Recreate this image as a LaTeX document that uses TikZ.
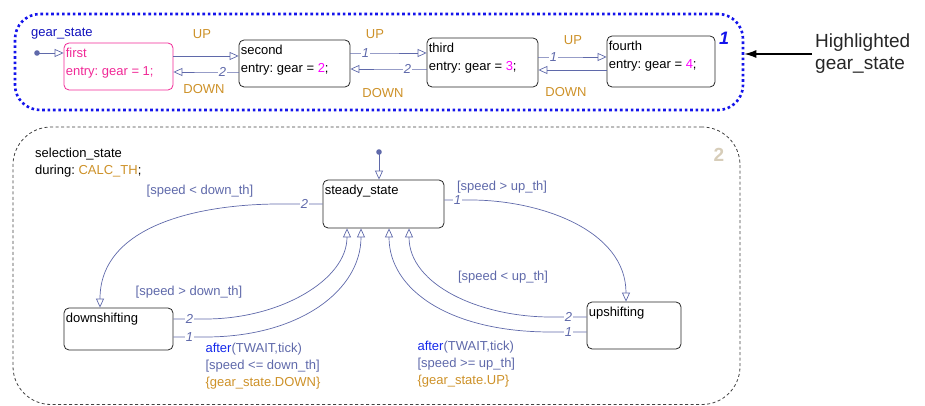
\documentclass[tikz,border=0pt]{standalone}
\usepackage{fontspec}
\setmainfont{Liberation Sans}
\usetikzlibrary{arrows.meta,positioning}

\definecolor{transblue}{RGB}{95,105,170}
\definecolor{evtorange}{RGB}{205,145,40}
\definecolor{pinkst}{RGB}{240,40,150}
\definecolor{gearnumcol}{RGB}{255,0,255}
\definecolor{afterblue}{RGB}{20,40,235}
\definecolor{gearblue}{RGB}{20,20,235}
\definecolor{tancol}{RGB}{215,205,185}

\frenchspacing
\tikzset{
  sfstate/.style={draw=black!85, line width=0.8pt, rounded corners=5pt},
  stxt/.style={anchor=north west, inner xsep=2pt, inner ysep=5.5pt, align=left, font=\fontsize{13}{17.5}\selectfont},
  trans/.style={draw=transblue, line width=0.7pt, -{Triangle[open,length=9pt,width=8pt]}},
  num/.style={fill=white, inner sep=1pt, text=transblue, font=\fontsize{13}{15}\selectfont\itshape},
  evt/.style={text=evtorange, font=\fontsize{13}{15}\selectfont},
  guard/.style={text=transblue, font=\fontsize{13}{17}\selectfont},
  gearbox/.style={draw=gearblue, line width=2.6pt, dash pattern=on 2.6pt off 2.8pt, rounded corners=25pt},
  selbox/.style={draw=black!75, line width=0.8pt, dash pattern=on 3pt off 2.5pt, rounded corners=38pt},
  hltext/.style={align=left, inner sep=3pt, font=\fontsize{19}{22}\selectfont, text=black!85},
  hlarrow/.style={draw=black, line width=1.3pt, -{Latex[length=12pt,width=8pt]}}
}

\begin{document}
\begin{tikzpicture}[x=1pt,y=1pt]
  \useasboundingbox (0,0) rectangle (925,406);

  % gear_state (highlighted)
  \node[gearbox, minimum width=728pt, minimum height=96pt] (gear) at (379,344) {};
  \node[text=gearblue, font=\fontsize{18}{18}\selectfont\bfseries\itshape] (gearid) at (724,368) {1};
  \node[anchor=west, inner sep=2pt, text=gearblue!80!black, font=\fontsize{13}{15}\selectfont] (gearname) at (29,372) {gear\_state};

  \node[sfstate, draw=pinkst, minimum width=109pt, minimum height=47pt] (first) at (118.5,339.5) {};
  \node[stxt, text=pinkst] (first-t) at (first.north west) {first\\entry: gear = 1;};
  \node[sfstate, minimum width=111pt, minimum height=47pt] (second) at (294.5,342.5) {};
  \node[stxt] (second-t) at (second.north west) {second\\entry: gear = \textcolor{gearnumcol}{2};};
  \node[sfstate, minimum width=111pt, minimum height=49pt] (third) at (482.5,343.5) {};
  \node[stxt] (third-t) at (third.north west) {third\\entry: gear = \textcolor{gearnumcol}{3};};
  \node[sfstate, minimum width=108pt, minimum height=51pt] (fourth) at (661,344.5) {};
  \node[stxt] (fourth-t) at (fourth.north west) {fourth\\entry: gear = \textcolor{gearnumcol}{4};};

  \coordinate (init1) at (37,353);
  \fill[transblue] (init1) circle (2.8pt);
  \draw[trans] (init1) -- (init1 -| first.west);

  \draw[trans] ([yshift=10.5pt]first.east) -- ([yshift=7.5pt]second.west);
  \draw[trans] ([yshift=-8.5pt]second.west) -- node[num]{2} ++(-32,0) -- ([yshift=-5.5pt]first.east);
  \draw[trans] ([yshift=10.5pt]second.east) -- node[num]{1} ++(30,0) -- ([yshift=9.5pt]third.west);
  \draw[trans] ([yshift=-6.5pt]third.west) -- node[num]{2} ++(-38,0) -- ([yshift=-5.5pt]second.east);
  \draw[trans] ([yshift=5.5pt]third.east) -- node[num]{1} ++(30,0) -- ([yshift=4.5pt]fourth.west);
  \draw[trans] ([yshift=-8.5pt]fourth.west) -- ([yshift=-7.5pt]third.east);

  \node[evt] (up1) at (202,372) {UP};
  \node[evt] (down1) at (204,317) {DOWN};
  \node[evt] (up2) at (375,372) {UP};
  \node[evt] (down2) at (383,313) {DOWN};
  \node[evt] (up3) at (573,366) {UP};
  \node[evt] (down3) at (566,314) {DOWN};

  \node[hltext, anchor=west] (hl) at (812,352) {Highlighted\\gear\_state};
  \draw[hlarrow] (hl.west) -- (hl.west -| gear.east);

  % selection_state
  \node[selbox, minimum width=727pt, minimum height=277.5pt] (sel) at (376.5,140.25) {};
  \node[text=tancol, font=\fontsize{19}{19}\selectfont\bfseries] (selid) at (719,251) {2};
  \node[stxt] (sel-t) at (33,264) {selection\_state\\during: \textcolor{evtorange}{CALC\_TH};};

  \node[sfstate, minimum width=121pt, minimum height=48pt] (steady) at (383.5,202) {};
  \node[stxt] (steady-t) at (steady.north west) {steady\_state};
  \node[sfstate, minimum width=109pt, minimum height=42pt] (down) at (118.5,77) {};
  \node[stxt] (down-t) at (down.north west) {downshifting};
  \node[sfstate, minimum width=94pt, minimum height=47pt] (up) at (634,80.5) {};
  \node[stxt] (up-t) at (up.north west) {upshifting};

  \coordinate (init2) at (379,254);
  \fill[transblue] (init2) circle (2.8pt);
  \draw[trans] (init2) -- (init2 |- steady.north);

  \draw[trans] (steady.west) -- node[num]{2} ++(-36,0) .. controls (200,203) and (100,181) .. ([xshift=-18.5pt]down.north);
  \draw[trans] ([yshift=4pt]steady.east) -- node[num]{1} ++(26,0) .. controls (540,206) and (626,176) .. ([xshift=-8pt]up.north);
  \draw[trans] ([yshift=10pt]down.east) -- node[num]{2} ++(32,0) .. controls (280,87) and (347,126) .. ([xshift=-36.5pt]steady.south);
  \draw[trans] ([yshift=-8pt]down.east) -- node[num]{1} ++(32,0) .. controls (300,69) and (361,116) .. ([xshift=-22.5pt]steady.south);
  \draw[trans] ([yshift=8.5pt]up.west) -- node[num]{2} ++(-36,0) .. controls (480,89) and (409,121) .. ([xshift=25.5pt]steady.south);
  \draw[trans] ([yshift=-6.5pt]up.west) -- node[num]{1} ++(-36,0) .. controls (450,74) and (389,116) .. ([xshift=5.5pt]steady.south);

  \node[guard] (g1) at (200,215) {[speed < down\_th]};
  \node[guard] (g2) at (502,219) {[speed > up\_th]};
  \node[guard] (g3) at (189,114) {[speed > down\_th]};
  \node[guard] (g4) at (503,129) {[speed < up\_th]};
  \node[guard, anchor=north west, align=left] (g5) at (202,66)
    {\textcolor{afterblue}{after}(TWAIT,tick)\\{}[speed <= down\_th]\\\textcolor{evtorange}{\{gear\_state.DOWN\}}};
  \node[guard, anchor=north west, align=left] (g6) at (414,68)
    {\textcolor{afterblue}{after}(TWAIT,tick)\\{}[speed >= up\_th]\\\textcolor{evtorange}{\{gear\_state.UP\}}};
\end{tikzpicture}
\end{document}
